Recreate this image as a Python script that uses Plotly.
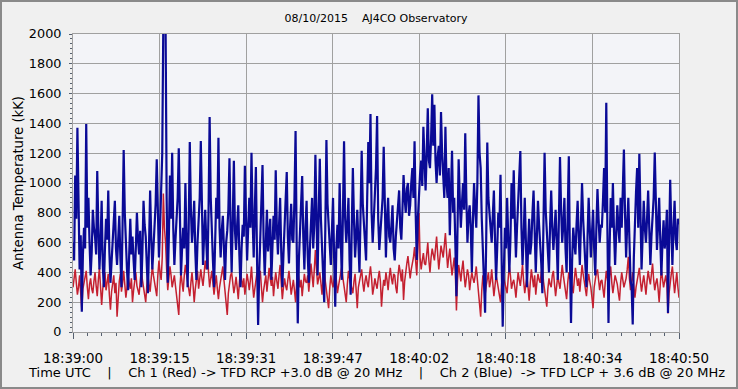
import plotly.graph_objects as go

# Time in seconds after 18:39:00 UTC, one sample every 0.2 s
step = 0.2
blue_ch2 = [
    600, 480, 1050, 760, 1371, 900, 420, 650, 136, 520, 700, 560, 1396, 700, 900, 600, 380, 540, 820, 700,
    640, 520, 1080, 700, 420, 600, 880, 450, 300, 560, 760, 620, 950, 540, 330, 470, 620, 780, 880, 560,
    450, 620, 780, 500, 300, 720, 1221, 800, 560, 420, 280, 600, 760, 520, 640, 480, 350, 560, 800, 620,
    520, 680, 300, 540, 880, 720, 640, 450, 260, 580, 950, 640, 420, 560, 700, 860, 1160, 780, 500, 700,
    900, 1200, 2100, 2100, 2100, 900, 330, 640, 1050, 760, 1203, 700, 450, 620, 800, 900, 1233, 600, 380, 560,
    700, 560, 1000, 620, 300, 700, 1275, 820, 600, 720, 880, 540, 350, 600, 760, 900, 1282, 700, 450, 650,
    820, 600, 420, 800, 1443, 900, 600, 480, 300, 640, 900, 760, 1304, 700, 500, 680, 780, 560, 350, 600,
    680, 820, 1166, 700, 400, 760, 1149, 680, 550, 720, 850, 520, 300, 560, 720, 640, 1115, 760, 480, 700,
    900, 700, 1203, 760, 500, 820, 1108, 500, 47, 400, 600, 800, 1121, 620, 380, 600, 820, 540, 640, 760,
    350, 560, 780, 620, 1085, 700, 520, 720, 900, 540, 300, 520, 700, 820, 1074, 640, 460, 700, 860, 620,
    600, 900, 1349, 600, 58, 480, 700, 820, 1047, 640, 420, 700, 880, 520, 330, 560, 760, 900, 560, 720,
    1190, 700, 380, 800, 1162, 760, 600, 400, 200, 700, 1289, 860, 700, 520, 450, 680, 900, 500, 170, 560,
    720, 560, 1000, 640, 350, 800, 1280, 760, 600, 720, 900, 480, 250, 700, 1100, 760, 500, 640, 820, 600,
    400, 800, 1217, 860, 700, 560, 480, 900, 1275, 1000, 1463, 800, 600, 760, 900, 1100, 1450, 760, 550, 700,
    800, 900, 1243, 700, 500, 760, 900, 640, 600, 720, 850, 560, 480, 640, 760, 860, 950, 700, 620, 820,
    1054, 900, 800, 960, 1000, 780, 850, 1000, 1100, 900, 1280, 800, 483, 760, 950, 1060, 1150, 980, 1378, 1100,
    950, 1200, 1501, 1150, 1100, 1300, 1595, 1250, 1525, 1150, 1000, 1180, 1250, 1050, 1477, 1200, 1050, 900, 1378, 1000,
    900, 1100, 650, 900, 1216, 800, 900, 600, 240, 700, 1160, 900, 700, 860, 1000, 820, 1334, 900, 600, 780,
    850, 700, 400, 760, 1000, 820, 700, 1000, 1588, 1200, 1100, 760, 500, 400, 130, 600, 1271, 900, 800, 640,
    600, 780, 950, 620, 350, 560, 800, 700, 1056, 500, 36, 400, 700, 560, 900, 640, 400, 620, 1000, 760,
    1085, 760, 500, 700, 850, 980, 1215, 700, 450, 640, 900, 620, 300, 560, 760, 520, 600, 800, 950, 680,
    400, 640, 880, 720, 620, 460, 260, 700, 1203, 820, 700, 560, 400, 720, 950, 700, 550, 680, 820, 600,
    350, 760, 1175, 820, 600, 720, 900, 560, 400, 800, 1180, 500, 60, 480, 700, 600, 520, 720, 880, 640,
    450, 720, 1000, 760, 620, 480, 300, 640, 900, 700, 500, 660, 820, 560, 380, 700, 960, 760, 600, 720,
    700, 880, 1100, 800, 1539, 700, 60, 560, 900, 700, 1000, 680, 450, 660, 850, 700, 600, 900, 700, 960,
    1224, 800, 500, 720, 900, 620, 350, 300, 50, 500, 800, 940, 1100, 700, 1197, 760, 420, 640, 880, 700,
    600, 760, 950, 700, 450, 640, 800, 900, 1204, 760, 550, 720, 900, 620, 380, 600, 750, 560, 640, 820,
    127, 600, 1022, 700, 450, 700, 880, 620, 550, 760, 720,
]
red_ch1 = [
    300, 360, 420, 330, 250, 300, 380, 260, 148, 290, 330, 380, 410, 300, 220, 320, 360, 290, 260, 340,
    400, 310, 240, 350, 430, 300, 181, 290, 350, 400, 280, 330, 390, 250, 150, 270, 320, 380, 260, 330,
    103, 250, 340, 390, 270, 330, 410, 320, 230, 300, 380, 330, 290, 360, 200, 280, 360, 400, 310, 270,
    250, 340, 420, 350, 300, 260, 200, 310, 380, 320, 270, 360, 440, 380, 330, 290, 240, 380, 480, 400,
    350, 500, 930, 700, 600, 420, 280, 360, 440, 380, 300, 340, 380, 310, 250, 200, 114, 300, 400, 330,
    270, 380, 450, 390, 330, 280, 240, 330, 400, 310, 200, 290, 360, 410, 290, 350, 420, 360, 310, 390,
    480, 420, 572, 400, 300, 360, 410, 330, 250, 320, 380, 290, 220, 300, 350, 400, 440, 350, 280, 220,
    114, 260, 330, 380, 400, 320, 260, 310, 370, 300, 220, 330, 420, 350, 300, 360, 250, 320, 390, 340,
    280, 350, 440, 320, 230, 290, 360, 400, 300, 350, 410, 300, 200, 280, 340, 380, 270, 350, 430, 360,
    310, 370, 240, 330, 400, 340, 290, 380, 450, 330, 220, 300, 360, 310, 280, 350, 410, 340, 250, 300,
    350, 280, 200, 330, 420, 360, 300, 350, 240, 320, 390, 340, 330, 380, 270, 360, 460, 380, 300, 420,
    550, 420, 320, 360, 400, 330, 250, 360, 430, 340, 280, 230, 160, 290, 380, 330, 300, 360, 420, 350,
    260, 310, 350, 400, 440, 360, 300, 260, 200, 320, 410, 360, 330, 290, 260, 340, 390, 280, 160, 300,
    340, 390, 420, 330, 270, 340, 380, 330, 300, 380, 440, 360, 250, 300, 360, 320, 290, 360, 410, 340,
    170, 280, 350, 310, 400, 350, 280, 370, 430, 360, 320, 390, 380, 300, 260, 380, 450, 400, 340, 420,
    215, 340, 420, 460, 510, 420, 360, 420, 460, 500, 570, 450, 380, 560, 798, 500, 420, 480, 530, 460,
    450, 520, 600, 480, 400, 500, 560, 520, 480, 560, 640, 520, 420, 500, 580, 540, 500, 580, 664, 540,
    430, 500, 560, 460, 380, 440, 500, 400, 145, 350, 450, 400, 340, 420, 480, 380, 300, 360, 420, 380,
    280, 350, 400, 360, 330, 380, 440, 350, 260, 200, 103, 280, 380, 320, 250, 310, 360, 400, 300, 340,
    420, 340, 240, 310, 380, 340, 300, 260, 200, 320, 410, 360, 330, 290, 260, 360, 440, 380, 290, 330,
    350, 300, 230, 320, 400, 350, 310, 380, 450, 340, 260, 320, 370, 300, 210, 330, 420, 360, 300, 380,
    250, 330, 390, 350, 330, 400, 440, 340, 280, 230, 170, 290, 360, 320, 300, 380, 410, 320, 240, 310,
    380, 330, 290, 370, 450, 380, 320, 280, 220, 330, 400, 360, 350, 300, 260, 350, 430, 370, 310, 360,
    270, 360, 450, 390, 340, 290, 240, 330, 390, 340, 300, 230, 160, 300, 370, 400, 420, 330, 280, 340,
    350, 290, 230, 330, 410, 360, 300, 380, 440, 330, 260, 320, 380, 350, 320, 260, 210, 330, 400, 350,
    300, 330, 360, 420, 505, 360, 280, 340, 400, 310, 230, 300, 350, 390, 430, 340, 270, 330, 380, 320,
    250, 340, 410, 360, 320, 390, 460, 350, 280, 330, 360, 290, 200, 320, 420, 360, 300, 340, 380, 320,
    125, 260, 340, 390, 440, 350, 260, 330, 400, 300, 230,
]
tick_labels = ["18:39:00", "18:39:15", "18:39:31", "18:39:47",
               "18:40:02", "18:40:18", "18:40:34", "18:40:50"]
y_ticks = [0, 200, 400, 600, 800, 1000, 1200, 1400, 1600, 1800, 2000]

span = 110.0
t_blue = [i * step for i in range(len(blue_ch2))]
t_red = [i * step for i in range(len(red_ch1))]
tick_vals = [span / 7 * k for k in range(8)]

FONT = "DejaVu Sans"
NB = "\u00a0"
fig = go.Figure()
fig.add_trace(go.Scatter(x=t_red, y=red_ch1, mode="lines",
                         line=dict(color="#c42030", width=1.5), name="Ch 1"))
fig.add_trace(go.Scatter(x=t_blue, y=blue_ch2, mode="lines",
                         line=dict(color="#0a0a96", width=2.2), name="Ch 2"))

W, H = 738, 389
L, R, T, B = 73, 59, 34, 57
pw, ph = W - L - R, H - T - B

fig.update_layout(
    width=W, height=H,
    margin=dict(l=L, r=R, t=T, b=B),
    paper_bgcolor="#f0f0f0",
    plot_bgcolor="#f3f4f8",
    showlegend=False,
    font=dict(family=FONT, size=12, color="#000000"),
    title=dict(text="08/10/2015" + NB * 4 + "AJ4CO Observatory", x=0.5, xref="paper",
               xanchor="center", y=1 - 18 / H, yanchor="middle",
               font=dict(family=FONT, size=11, color="#000000")),
    xaxis=dict(range=[0, span], tickvals=tick_vals, ticktext=tick_labels,
               showgrid=True, gridcolor="#a0a0a0", gridwidth=1,
               showline=True, linecolor="#a0a0a0", mirror=True,
               ticks="outside", ticklen=6, tickcolor="#556070",
               ticklabelstandoff=8, automargin=False,
               minor=dict(dtick=span / 42, tick0=0, ticks="outside", ticklen=3,
                          tickcolor="#556070", showgrid=False),
               zeroline=False, fixedrange=True,
               tickfont=dict(family=FONT, size=13.4)),
    yaxis=dict(range=[0, 2000], tickvals=y_ticks,
               showgrid=True, gridcolor="#a0a0a0", gridwidth=1,
               showline=True, linecolor="#a0a0a0", mirror=True,
               ticks="outside", ticklen=3, tickcolor="#556070",
               ticklabelstandoff=5, automargin=False,
               minor=dict(dtick=200 / 6, ticks="outside", ticklen=2,
                          tickcolor="#556070", showgrid=False),
               zeroline=False, fixedrange=True,
               title=dict(text="Antenna Temperature (kK)", standoff=2,
                          font=dict(family=FONT, size=13.2)),
               tickfont=dict(family=FONT, size=12.8)),
)

sep = NB * 4 + "|" + NB * 4
fig.add_annotation(
    text="Time UTC" + sep + "Ch 1 (Red) -> TFD RCP +3.0 dB @ 20 MHz" + sep +
         "Ch 2 (Blue)" + NB * 2 + "-> TFD LCP + 3.6 dB @ 20 MHz",
    xref="paper", yref="paper", x=(376 - L) / pw, y=-(372 - T - ph) / ph,
    xanchor="center", yanchor="middle", showarrow=False,
    font=dict(family=FONT, size=13, color="#000000"))

# outer frame of the window
fig.add_shape(type="rect", xref="paper", yref="paper",
              x0=-(L - 1) / pw, x1=1 + (R - 1) / pw,
              y0=-(B - 1) / ph, y1=1 + (T - 1) / ph,
              line=dict(color="#8a8a8a", width=2), layer="above")

fig.write_html("out.html", config={"displayModeBar": False},
               post_script="document.body.style.margin='0';"
                           "document.body.style.overflow='hidden';")
